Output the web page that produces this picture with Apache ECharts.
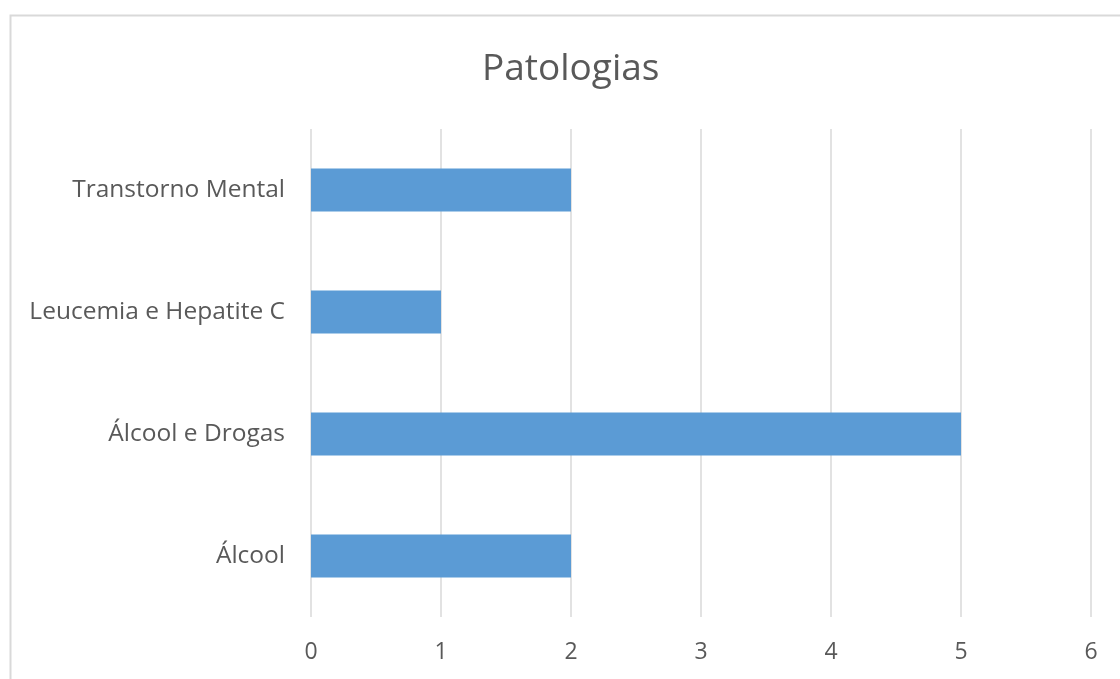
<!DOCTYPE html>
<html>
<head>
<meta charset="utf-8">
<script src="https://cdn.jsdelivr.net/npm/echarts@6/dist/echarts.min.js"></script>
<style>
  html, body { margin: 0; padding: 0; background: #fff; }
  #chart { width: 1120px; height: 679px; }
</style>
</head>
<body>
<div id="chart"></div>
<script>
// Patologias: number of cases per category (bottom to top)
const categories = ['Álcool', 'Álcool e Drogas', 'Leucemia e Hepatite C', 'Transtorno Mental'];
const values = [2, 5, 1, 2];
const axisTicks = [0, 1, 2, 3, 4, 5, 6];

const FONT = '"Open Sans", "Noto Sans", sans-serif';
const TEXT = '#595959';

const chart = echarts.init(document.getElementById('chart'), null, { renderer: 'canvas' });
chart.setOption({
  animation: false,
  backgroundColor: '#ffffff',
  graphic: [{
    type: 'rect',
    left: 8, top: 13,
    shape: { width: 1200, height: 800 },
    style: { fill: 'none', stroke: '#d9d9d9', lineWidth: 2 },
    silent: true
  }],
  title: {
    text: 'Patologias',
    left: 477, top: 46,
    textStyle: { fontFamily: FONT, fontSize: 37, fontWeight: 'normal', color: TEXT }
  },
  grid: { left: 311, right: 29, top: 129, bottom: 62, containLabel: false },
  xAxis: {
    type: 'value',
    min: axisTicks[0],
    max: axisTicks[axisTicks.length - 1],
    interval: 1,
    axisLine: { show: false },
    axisTick: { show: false },
    splitLine: { show: true, lineStyle: { color: '#d9d9d9', width: 1.5 } },
    axisLabel: { fontFamily: FONT, fontSize: 23, color: TEXT, margin: 24 }
  },
  yAxis: {
    type: 'category',
    data: categories,
    axisLine: { show: false },
    axisTick: { show: false },
    axisLabel: { fontFamily: FONT, fontSize: 24.5, color: TEXT, margin: 26 }
  },
  series: [{
    type: 'bar',
    data: values,
    barWidth: 43,
    itemStyle: { color: '#5b9bd5' }
  }]
});
</script>
</body>
</html>
